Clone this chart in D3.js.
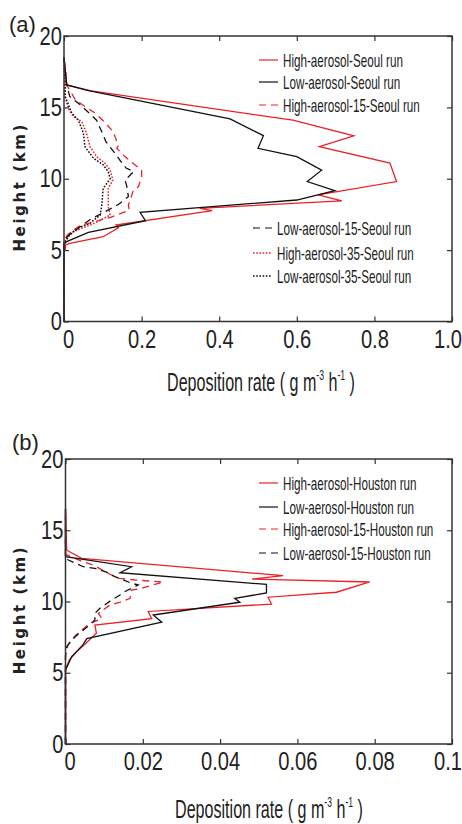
<!DOCTYPE html>
<html><head><meta charset="utf-8">
<script src="https://cdn.jsdelivr.net/npm/d3@7"></script>
<style>body{margin:0;background:#fff}</style>
</head><body><svg id="c" width="462" height="824"></svg>
<script>
// ---------- data ----------
const heightTicks = [0, 5, 10, 15, 20];
const heightTickLabels = ["0", "5", "10", "15", "20"];
const rateTicksA = [0, 0.2, 0.4, 0.6, 0.8, 1.0];
const rateTickLabelsA = ["0", "0.2", "0.4", "0.6", "0.8", "1.0"];
const rateTicksB = [0, 0.02, 0.04, 0.06, 0.08, 0.1];
const rateTickLabelsB = ["0", "0.02", "0.04", "0.06", "0.08", "0.1"];

// [deposition rate, height km]
const highSeoul = [[0,0],[0,4.9],[0.003,5.0],[0.004,5.36],[0.015,5.48],[0.101,5.94],[0.14,6.57],[0.134,6.76],[0.382,7.77],[0.35,7.93],[0.716,8.45],[0.655,8.87],[0.857,9.8],[0.84,11.1],[0.658,12.25],[0.747,13.0],[0.59,14.1],[0.07,16.15],[0.007,16.57],[0,18.5]];
const lowSeoul = [[0,0],[0,5.4],[0.007,5.6],[0.063,6.25],[0.21,7.06],[0.196,7.65],[0.60,8.51],[0.698,9.17],[0.627,9.8],[0.664,10.6],[0.60,11.55],[0.50,12.13],[0.514,13.02],[0.428,14.19],[0.063,16.17],[0.007,16.57],[0,18.5]];
const high15Seoul = [[0,0],[0,5.7],[0.01,6.1],[0.04,6.7],[0.12,7.3],[0.168,7.8],[0.166,8.16],[0.179,9.2],[0.192,9.45],[0.2,10.15],[0.2,10.6],[0.157,11.55],[0.136,12.14],[0.14,12.3],[0.127,13.3],[0.101,14.07],[0.08,14.6],[0.03,15.5],[0.007,16.57],[0,18.5]];
const low15Seoul = [[0,0],[0,5.6],[0.01,6.0],[0.04,6.6],[0.07,7.2],[0.1,7.6],[0.14,8.2],[0.166,8.75],[0.161,9.57],[0.157,9.9],[0.18,10.5],[0.16,10.75],[0.144,11.3],[0.131,11.8],[0.108,12.6],[0.101,13.07],[0.084,14.1],[0.065,14.6],[0.041,15.2],[0.015,15.75],[0.007,16.57],[0,18.5]];
const high35Seoul = [[0,0],[0,5.5],[0.007,5.7],[0.015,6.18],[0.046,6.53],[0.08,6.9],[0.119,7.46],[0.114,8.05],[0.114,9.33],[0.126,9.9],[0.119,10.6],[0.106,11.08],[0.084,11.55],[0.067,12.25],[0.058,13.2],[0.046,14.0],[0.024,14.35],[0.011,14.94],[0.003,15.75],[0.003,16.5],[0,18.5]];
const low35Seoul = [[0,0],[0,5.5],[0.011,5.94],[0.033,6.53],[0.067,6.88],[0.093,7.46],[0.097,8.05],[0.101,9.33],[0.119,10.0],[0.114,10.5],[0.101,10.97],[0.076,11.44],[0.054,12.25],[0.05,13.2],[0.037,14.1],[0.02,14.6],[0.003,15.75],[0.003,16.5],[0,18.5]];

const highHouston = [[0,0],[0,5.2],[0.001,5.9],[0.003,6.5],[0.005,7.0],[0.008,7.77],[0.0076,8.35],[0.0223,8.8],[0.0214,9.3],[0.0533,9.82],[0.0524,10.3],[0.0701,10.65],[0.0787,11.37],[0.0483,11.58],[0.0563,11.81],[0.0042,13.03],[0.0003,13.6],[0,16.5]];
const lowHouston = [[0,0],[0,5.19],[0.0016,6.13],[0.0045,6.95],[0.0055,7.4],[0.0249,8.55],[0.0227,9.05],[0.0451,9.95],[0.0438,10.22],[0.052,10.6],[0.052,11.2],[0.0141,12.02],[0.0171,12.44],[0,13.15],[0,16.5]];
const high15Houston = [[0,0],[0,6.2],[0.0007,7.0],[0.0025,7.6],[0.006,8.4],[0.0094,8.82],[0.0085,9.17],[0.0115,9.75],[0.0141,9.95],[0.0167,10.22],[0.0171,10.8],[0.0197,10.93],[0.0253,11.37],[0.0184,11.5],[0.0137,11.63],[0.011,11.98],[0.0072,12.56],[0.004,12.85],[0,13.3],[0,16.5]];
const low15Houston = [[0,0],[0,6.2],[0.0003,6.83],[0.0025,7.53],[0.0055,8.2],[0.0076,8.7],[0.0076,9.17],[0.0089,9.52],[0.0119,10.1],[0.0141,10.46],[0.0145,10.58],[0.0175,10.98],[0.0188,11.16],[0.0171,11.28],[0.0128,11.74],[0.0106,12.06],[0.0076,12.33],[0.0046,12.44],[0,13.0],[0,16.5]];

const seriesNamesA = ["High-aerosol-Seoul run","Low-aerosol-Seoul run","High-aerosol-15-Seoul run","Low-aerosol-15-Seoul run","High-aerosol-35-Seoul run","Low-aerosol-35-Seoul run"];
const seriesNamesB = ["High-aerosol-Houston run","Low-aerosol-Houston run","High-aerosol-15-Houston run","Low-aerosol-15-Houston run"];

// ---------- styling ----------
const RED = "#ec2027", BLK = "#111";
const styles = {
  solidR: {color: RED, dash: null},
  solidK: {color: BLK, dash: null},
  dashR: {color: RED, dash: "7,5"},
  dashK: {color: BLK, dash: "7,5"},
  dotR: {color: RED, dash: "1.6,1.6"},
  dotK: {color: BLK, dash: "1.6,1.6"}
};
const NARROW = "'Liberation Sans Narrow','Arial Narrow','Liberation Sans',sans-serif";

const svg = d3.select("#c");

function measureScale(size, str, target) {
  const t = svg.append("text").attr("font-family", NARROW).attr("font-size", size).text(str);
  const w = t.node().getComputedTextLength();
  t.remove();
  return target / w;
}
const tickScale = measureScale(25, "0.2", 28);
const legScale = measureScale(18, "High-aerosol-Seoul run", 120);

function panel(cfg) {
  const x = d3.scaleLinear().domain(cfg.xDomain).range([cfg.left, cfg.right]);
  const y = d3.scaleLinear().domain([0, 20]).range([cfg.bottom, cfg.top]);
  const g = svg.append("g");

  // lines
  const line = d3.line().x(d => x(d[0])).y(d => y(d[1]));
  cfg.series.forEach(s => {
    g.append("path").datum(s.data).attr("d", line)
      .attr("fill", "none").attr("stroke", s.style.color)
      .attr("stroke-width", s.style.dash && s.style.dash.startsWith("1.6") ? 1.5 : 1.3)
      .attr("stroke-dasharray", s.style.dash)
      .attr("stroke-linejoin", "miter");
  });

  // axes
  const fmtX = d => cfg.xLabels[cfg.xTicks.indexOf(d)];
  const fmtY = d => heightTickLabels[heightTicks.indexOf(d)];
  const axB = g.append("g").attr("transform", `translate(0,${cfg.bottom})`)
    .call(d3.axisBottom(x).tickValues(cfg.xTicks).tickFormat(fmtX).tickSizeInner(-5).tickSizeOuter(0).tickPadding(cfg.xPad));
  const axL = g.append("g").attr("transform", `translate(${cfg.left},0)`)
    .call(d3.axisLeft(y).tickValues(heightTicks).tickFormat(fmtY).tickSizeInner(-5).tickSizeOuter(0).tickPadding(2));
  const axT = g.append("g").attr("transform", `translate(0,${cfg.top})`)
    .call(d3.axisTop(x).tickValues(cfg.xTicks).tickFormat("").tickSizeInner(-5).tickSizeOuter(0));
  const axR = g.append("g").attr("transform", `translate(${cfg.right},0)`)
    .call(d3.axisRight(y).tickValues(heightTicks).tickFormat("").tickSizeInner(-5).tickSizeOuter(0));
  [axB, axL, axT, axR].forEach(a => {
    a.select(".domain").remove();
    a.selectAll(".tick line").attr("stroke", "#333").attr("stroke-width", 1.2);
    a.selectAll("text").attr("font-family", NARROW).attr("font-size", 25).attr("fill", "#222")
      .attr("x", function(){ return (+this.getAttribute("x") || 0) / tickScale; })
      .attr("transform", `scale(${tickScale},1)`);
  });
  // first x label nudged right of the shared origin, last one kept in view
  axB.selectAll(".tick text").filter((d, i) => i === 0).attr("text-anchor", "start").attr("x", -1.5 / tickScale);
  axB.selectAll(".tick text").filter((d, i, n) => i === n.length - 1).attr("text-anchor", "end").attr("x", 9.5 / tickScale);

  // frame
  g.append("rect").attr("x", cfg.left).attr("y", cfg.top)
    .attr("width", cfg.right - cfg.left).attr("height", cfg.bottom - cfg.top)
    .attr("fill", "none").attr("stroke", "#333").attr("stroke-width", 1.5);

  // y title
  svg.append("text").attr("transform", `translate(25,${(cfg.top + cfg.bottom) / 2 + 8}) rotate(-90)`)
    .attr("text-anchor", "middle").attr("font-family", "'DejaVu Sans',Verdana,sans-serif")
    .attr("font-size", 15).attr("font-weight", "bold").attr("letter-spacing", 2.6)
    .attr("fill", "#222").text("Height (km)");

  // x title
  const xt = svg.append("text").attr("font-family", NARROW).attr("font-size", 26).attr("fill", "#222")
    .attr("text-anchor", "middle");
  xt.append("tspan").text("Deposition rate ( g m");
  xt.append("tspan").attr("font-size", 14).attr("dy", -11).text("-3");
  xt.append("tspan").attr("dy", 11).text(" h");
  xt.append("tspan").attr("font-size", 14).attr("dy", -11).text("-1");
  xt.append("tspan").attr("dy", 11).text(" )");
  const xw = xt.node().getComputedTextLength();
  const xs = 188 / xw;
  xt.attr("transform", `translate(${cfg.titleX},${cfg.titleY}) scale(${xs},1)`);

  // panel label
  svg.append("text").attr("x", cfg.labelX).attr("y", cfg.labelY)
    .attr("font-family", NARROW).attr("font-size", 22).attr("fill", "#222").text(cfg.label);

  // legends
  cfg.legends.forEach(L => {
    L.items.forEach((it, i) => {
      const yy = L.rows[i];
      g.append("line").attr("x1", L.x0).attr("x2", L.x0 + 19).attr("y1", yy).attr("y2", yy)
        .attr("stroke", it.style.color).attr("stroke-width", it.style.dash && it.style.dash.startsWith("1.6") ? 1.4 : 1.2)
        .attr("stroke-dasharray", it.style.dash);
      g.append("text").attr("transform", `translate(${L.x0 + 24},${yy + 6.5}) scale(${legScale},1)`)
        .attr("font-family", NARROW).attr("font-size", 18).attr("fill", "#222").text(it.name);
    });
  });
}

panel({
  left: 64, right: 452, top: 36, bottom: 321.5,
  xDomain: [0, 1.0], xTicks: rateTicksA, xLabels: rateTickLabelsA, xPad: 9,
  series: [
    {data: high35Seoul, style: styles.dotR},
    {data: low35Seoul, style: styles.dotK},
    {data: high15Seoul, style: styles.dashR},
    {data: low15Seoul, style: styles.dashK},
    {data: highSeoul, style: styles.solidR},
    {data: lowSeoul, style: styles.solidK}
  ],
  titleX: 261, titleY: 391, label: "(a)", labelX: 9, labelY: 32,
  legends: [
    {x0: 259, rows: [60, 82, 105], items: [
      {name: seriesNamesA[0], style: styles.solidR},
      {name: seriesNamesA[1], style: styles.solidK},
      {name: seriesNamesA[2], style: styles.dashR}]},
    {x0: 253, rows: [228, 253, 276], items: [
      {name: seriesNamesA[3], style: styles.dashK},
      {name: seriesNamesA[4], style: styles.dotR},
      {name: seriesNamesA[5], style: styles.dotK}]}
  ]
});

panel({
  left: 65.5, right: 452, top: 459, bottom: 744,
  xDomain: [0, 0.1], xTicks: rateTicksB, xLabels: rateTickLabelsB, xPad: 8,
  series: [
    {data: high15Houston, style: styles.dashR},
    {data: low15Houston, style: styles.dashK},
    {data: highHouston, style: styles.solidR},
    {data: lowHouston, style: styles.solidK}
  ],
  titleX: 269, titleY: 818, label: "(b)", labelX: 12, labelY: 450,
  legends: [
    {x0: 259, rows: [483, 507, 529, 553], items: [
      {name: seriesNamesB[0], style: styles.solidR},
      {name: seriesNamesB[1], style: styles.solidK},
      {name: seriesNamesB[2], style: styles.dashR},
      {name: seriesNamesB[3], style: styles.dashK}]}
  ]
});
</script></body></html>
